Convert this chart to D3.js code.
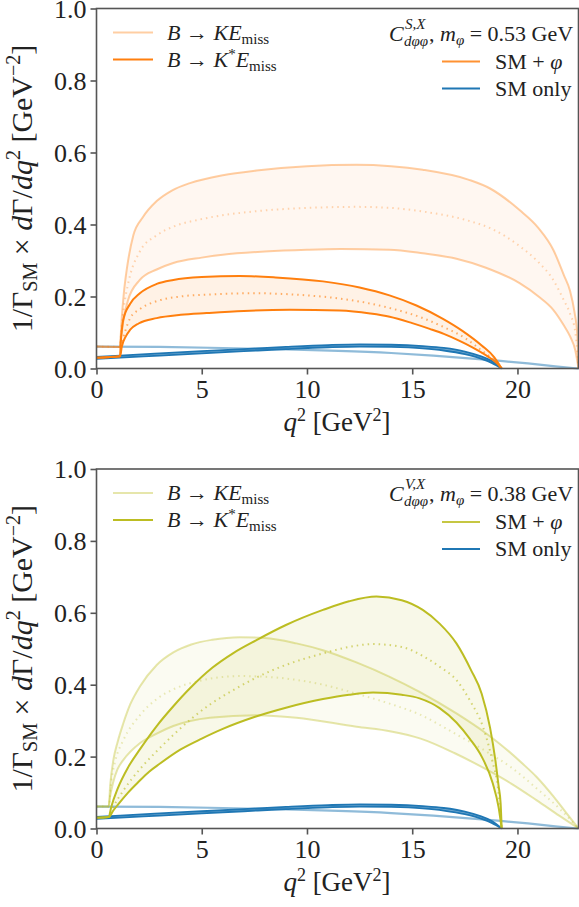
<!DOCTYPE html>
<html><head><meta charset="utf-8">
<script src="https://cdn.jsdelivr.net/npm/d3@7"></script>
<style>body{margin:0;background:#fff}svg text{font-family:"Liberation Serif","Times New Roman","DejaVu Serif",serif;fill:#222}</style>
</head><body><svg id="c" width="579" height="907" font-family="Liberation Serif"></svg>
<script>
// ---------- data ----------
const xTicks = [0, 5, 10, 15, 20];
const yTicks = [0, 0.2, 0.4, 0.6, 0.8, 1.0];

// SM only (shared by both panels)
const smK = [[0,0.061],[3,0.060],[6,0.057],[9,0.053],[11.5,0.049],[14,0.043],[16,0.036],[18,0.027],[19.2,0.021],[20.5,0.014],[21.8,0.006],[22.9,0]];
const smKsUpper = [[0,0.032],[1.12,0.036],[3,0.042],[5,0.048],[7,0.054],[9,0.060],[11,0.065],[12.5,0.067],[14,0.066],[15.5,0.062],[16.5,0.057],[17.5,0.047],[18.2,0.035],[18.8,0.02],[19.25,0]];
const smKsLower = [[0,0.027],[1.12,0.030],[3,0.036],[5,0.042],[7,0.048],[9,0.054],[11,0.059],[12.5,0.061],[14,0.060],[15.5,0.056],[16.5,0.050],[17.5,0.040],[18.2,0.029],[18.8,0.015],[19.25,0]];

// Top panel: scalar, m_phi = 0.53 GeV
const topKUpper = [[0,0.061],[1.12,0.060],[1.16,0.10],[1.2,0.14],[1.3,0.21],[1.45,0.28],[1.75,0.37],[2.2,0.42],[2.86,0.465],[3.6,0.495],[4.44,0.515],[6,0.537],[7.6,0.55],[10,0.562],[12.35,0.566],[14,0.562],[15.5,0.552],[17.7,0.524],[18.7,0.5],[20.1,0.44],[21,0.39],[21.7,0.33],[22.2,0.26],[22.5,0.215],[22.7,0.16],[22.85,0.09],[22.9,0]];
const topKMid = [[0,0.061],[1.12,0.060],[1.16,0.095],[1.2,0.12],[1.3,0.17],[1.5,0.235],[2.06,0.325],[2.86,0.37],[3.65,0.394],[5,0.415],[7.6,0.437],[10,0.446],[12.35,0.449],[14,0.446],[15.5,0.436],[17.7,0.41],[18.7,0.39],[20.1,0.34],[21,0.295],[21.7,0.246],[22.2,0.19],[22.5,0.152],[22.75,0.1],[22.9,0]];
const topKLower = [[0,0.061],[1.12,0.060],[1.16,0.085],[1.2,0.1],[1.27,0.13],[1.5,0.19],[2.06,0.246],[2.86,0.275],[3.65,0.293],[5,0.308],[6,0.316],[8,0.325],[10,0.33],[11.6,0.332],[13.9,0.33],[15.5,0.32],[17.1,0.305],[18.5,0.28],[20.1,0.237],[21,0.2],[21.7,0.163],[22.2,0.12],[22.5,0.089],[22.75,0.05],[22.9,0]];
const topKsUpper = [[0,0.030],[1.12,0.034],[1.15,0.07],[1.2,0.105],[1.27,0.135],[1.6,0.18],[2.06,0.209],[2.86,0.235],[3.65,0.246],[5,0.254],[6.8,0.257],[8.5,0.253],[10.76,0.242],[12.5,0.225],[13.92,0.203],[15.2,0.175],[16.46,0.138],[17.4,0.104],[18.3,0.064],[18.9,0.031],[19.25,0]];
const topKsMid = [[0,0.030],[1.12,0.034],[1.2,0.065],[1.4,0.11],[1.6,0.14],[2.06,0.165],[2.86,0.187],[4,0.2],[5.5,0.206],[7.6,0.209],[9.5,0.205],[11,0.198],[12.5,0.186],[14,0.167],[15.5,0.14],[16.5,0.115],[17.5,0.085],[18.3,0.05],[18.9,0.023],[19.25,0]];
const topKsLower = [[0,0.030],[1.12,0.034],[1.2,0.06],[1.4,0.09],[1.59,0.107],[2.0,0.125],[2.86,0.14],[4,0.149],[5.23,0.154],[7,0.16],[9.18,0.163],[11.56,0.161],[13,0.153],[13.93,0.144],[15,0.126],[15.83,0.11],[16.5,0.096],[17.2,0.078],[17.88,0.058],[18.6,0.033],[19.0,0.016],[19.25,0]];

// Bottom panel: vector, m_phi = 0.38 GeV
const botKUpper = [[0,0.061],[0.58,0.061],[0.65,0.12],[0.8,0.19],[1.0,0.24],[1.27,0.292],[1.6,0.345],[2.06,0.395],[2.86,0.455],[3.65,0.49],[4.5,0.512],[5.5,0.525],[6.8,0.532],[8,0.53],[9.5,0.515],[10.76,0.496],[12.35,0.462],[13.93,0.422],[15.35,0.38],[17.1,0.32],[18.5,0.265],[19.15,0.236],[20.25,0.18],[20.9,0.144],[21.7,0.09],[22.3,0.045],[22.9,0]];
const botKMid = [[0,0.061],[0.58,0.061],[0.7,0.13],[0.9,0.19],[1.27,0.245],[2.06,0.315],[2.86,0.36],[3.65,0.387],[5,0.412],[6.8,0.424],[8.5,0.42],[10.76,0.40],[12.35,0.375],[14,0.346],[15.4,0.316],[17,0.265],[18.5,0.215],[19.7,0.17],[20.9,0.112],[22,0.055],[22.9,0]];
const botKLower = [[0,0.061],[0.58,0.061],[0.65,0.09],[0.8,0.13],[1.0,0.165],[1.27,0.19],[2.06,0.237],[2.86,0.264],[3.65,0.285],[5.39,0.308],[7.6,0.315],[9.5,0.308],[12.35,0.283],[14,0.27],[15.4,0.25],[17,0.21],[18.5,0.165],[19.7,0.125],[20.9,0.079],[22,0.035],[22.9,0]];
const botKsUpper = [[0,0.030],[0.58,0.032],[0.7,0.06],[1.0,0.11],[1.5,0.17],[2.06,0.22],[2.86,0.285],[3.65,0.34],[4.44,0.39],[5.5,0.447],[6.5,0.488],[7.6,0.524],[9,0.566],[10.76,0.608],[12,0.632],[13.3,0.645],[14.5,0.635],[15.5,0.608],[16.3,0.57],[17.1,0.515],[17.8,0.44],[18.3,0.375],[18.7,0.28],[18.95,0.19],[19.1,0.12],[19.2,0.07],[19.25,0]];
const botKsMid = [[0,0.030],[0.58,0.032],[0.8,0.06],[1.27,0.105],[2.06,0.165],[2.86,0.215],[3.65,0.26],[4.5,0.305],[5.39,0.345],[6.5,0.385],[7.6,0.42],[9,0.455],[10.76,0.487],[12,0.505],[13.14,0.513],[14.5,0.505],[15.5,0.48],[16.3,0.45],[17.1,0.413],[17.8,0.35],[18.36,0.283],[18.8,0.19],[19.1,0.1],[19.25,0]];
const botKsLower = [[0,0.030],[0.58,0.032],[0.8,0.05],[1.0,0.065],[1.5,0.1],[2.0,0.13],[2.5,0.158],[3.0,0.18],[4.0,0.22],[5.0,0.25],[6.0,0.277],[7.5,0.31],[9,0.336],[10.76,0.36],[12,0.372],[13.14,0.378],[14.5,0.372],[15.35,0.362],[16.3,0.335],[17.1,0.295],[17.73,0.25],[18.3,0.2],[18.83,0.125],[19.1,0.06],[19.25,0]];

const panels = [
  {top:8.5, bottom:368.5, color:"#ff7f0e", rgb:"255,127,14", coupling:"S,X", mass:"0.53",
   K:[topKUpper,topKMid,topKLower], Ks:[topKsUpper,topKsMid,topKsLower]},
  {top:469, bottom:828.5, color:"#bcbd22", rgb:"188,189,34", coupling:"V,X", mass:"0.38",
   K:[botKUpper,botKMid,botKLower], Ks:[botKsUpper,botKsMid,botKsLower]}
];
const blue = "#1f77b4";
const FONT = "Liberation Serif";

// ---------- drawing ----------
const svg = d3.select("#c");
const x = d3.scaleLinear().domain([0, 22.9]).range([96.5, 578.5]);
const axisCol = "#555";

panels.forEach(p => {
  const y = d3.scaleLinear().domain([0, 1]).range([p.bottom, p.top]);
  const g = svg.append("g");
  const line = d3.line().x(d => x(d[0])).y(d => y(d[1])).curve(d3.curveMonotoneX);
  const band = (u, l) => line(u) + "L" + line(l.slice().reverse()).substring(1) + "Z";

  // fills
  g.append("path").attr("d", band(p.K[0], p.K[2])).attr("fill", `rgba(${p.rgb},0.06)`);
  g.append("path").attr("d", band(p.Ks[0], p.Ks[2])).attr("fill", `rgba(${p.rgb},0.10)`);
  g.append("path").attr("d", band(smKsUpper, smKsLower)).attr("fill", "rgba(31,119,180,0.6)");

  // SM lines
  g.append("path").attr("d", line(smK)).attr("fill","none").attr("stroke","rgba(31,119,180,0.5)").attr("stroke-width",2.2);
  [smKsUpper, smKsLower].forEach(s => g.append("path").attr("d", line(s)).attr("fill","none").attr("stroke",blue).attr("stroke-width",1.8));

  // K lines (light)
  [p.K[0], p.K[2]].forEach(s => g.append("path").attr("d", line(s)).attr("fill","none").attr("stroke",`rgba(${p.rgb},0.38)`).attr("stroke-width",2));
  g.append("path").attr("d", line(p.K[1])).attr("fill","none").attr("stroke",`rgba(${p.rgb},0.3)`).attr("stroke-width",2).attr("stroke-dasharray","1.5,4");
  // K* lines
  [p.Ks[0], p.Ks[2]].forEach(s => g.append("path").attr("d", line(s)).attr("fill","none").attr("stroke",p.color).attr("stroke-width",2));
  g.append("path").attr("d", line(p.Ks[1])).attr("fill","none").attr("stroke",`rgba(${p.rgb},0.6)`).attr("stroke-width",2).attr("stroke-dasharray","1.5,4");

  // frame
  g.append("rect").attr("x",96.5).attr("y",p.top).attr("width",482).attr("height",p.bottom-p.top)
    .attr("fill","none").attr("stroke",axisCol).attr("stroke-width",1.6);

  // axes
  const ax = g.append("g").attr("transform",`translate(0,${p.bottom})`)
    .call(d3.axisBottom(x).tickValues(xTicks).tickFormat(d3.format("d")).tickSize(6).tickPadding(4));
  const ay = g.append("g").attr("transform",`translate(96.5,0)`)
    .call(d3.axisLeft(y).tickValues(yTicks).tickFormat(d3.format(".1f")).tickSize(6).tickPadding(4));
  [ax, ay].forEach(a => {
    a.attr("font-family", FONT);
    a.select(".domain").remove();
    a.selectAll(".tick line").attr("stroke",axisCol).attr("stroke-width",1.6);
    a.selectAll(".tick text").attr("font-size",26).attr("fill","#222").attr("font-family",FONT);
  });
  ax.selectAll(".tick text").attr("dy","0.76em");
  ay.selectAll(".tick text").attr("dy","0.34em");

  // x label
  const xl = g.append("text").attr("x",337).attr("y",p.bottom+62).attr("text-anchor","middle").attr("font-size",27).attr("font-family",FONT);
  xl.append("tspan").attr("font-style","italic").text("q");
  xl.append("tspan").attr("font-size",18).attr("dy",-10).text("2");
  xl.append("tspan").attr("dy",10).text(" [GeV");
  xl.append("tspan").attr("font-size",18).attr("dy",-10).text("2");
  xl.append("tspan").attr("dy",10).text("]");

  // y label
  const cy = (p.top+p.bottom)/2;
  const yl = g.append("text").attr("transform",`translate(32,${cy}) rotate(-90)`).attr("text-anchor","middle").attr("font-size",30).attr("font-family",FONT);
  yl.append("tspan").text("1/Γ");
  yl.append("tspan").attr("font-size",20).attr("dy",5).text("SM");
  yl.append("tspan").attr("dy",-5).text(" × ");
  yl.append("tspan").attr("font-style","italic").text("d");
  yl.append("tspan").text("Γ/");
  yl.append("tspan").attr("font-style","italic").text("dq");
  yl.append("tspan").attr("font-size",20).attr("dy",-12).text("2");
  yl.append("tspan").attr("dy",12).text(" [GeV");
  yl.append("tspan").attr("font-size",20).attr("dy",-12).text("−2");
  yl.append("tspan").attr("dy",12).text("]");

  // left legend
  const L = [{c:`rgba(${p.rgb},0.38)`, star:false, dy:24},{c:p.color, star:true, dy:51}];
  L.forEach(it => {
    const yy = p.top + it.dy;
    g.append("line").attr("x1",113).attr("x2",153).attr("y1",yy).attr("y2",yy).attr("stroke",it.c).attr("stroke-width",2);
    const t = g.append("text").attr("x",167).attr("y",yy+7).attr("font-size",22).attr("font-family",FONT);
    t.append("tspan").attr("font-style","italic").text("B");
    t.append("tspan").text(" → ");
    t.append("tspan").attr("font-style","italic").text("K");
    if (it.star) t.append("tspan").attr("font-size",15).attr("dy",-8).text("*");
    t.append("tspan").attr("font-style","italic").attr("dy", it.star ? 8 : 0).text("E");
    t.append("tspan").attr("font-size",15).attr("dy",4).text("miss");
  });

  // right legend title
  const ty = p.top + 32;
  g.append("text").attr("x",389).attr("y",ty).attr("font-size",22).attr("font-style","italic").attr("font-family",FONT).text("C");
  g.append("text").attr("x",405).attr("y",ty-12).attr("font-size",15).attr("font-style","italic").attr("font-family",FONT).text(p.coupling);
  g.append("text").attr("x",404).attr("y",ty+5).attr("font-size",15).attr("font-style","italic").attr("font-family",FONT).text("dφφ");
  const tt = g.append("text").attr("x",429).attr("y",ty).attr("font-size",22).attr("font-family",FONT);
  tt.append("tspan").text(", ");
  tt.append("tspan").attr("font-style","italic").text("m");
  tt.append("tspan").attr("font-size",15).attr("font-style","italic").attr("dy",4).text("φ");
  tt.append("tspan").attr("dy",-4).text(" = " + p.mass + " GeV");

  // right legend entries
  [{c:`rgba(${p.rgb},0.85)`, lab:"SM + ", phi:true, dy:53},{c:blue, lab:"SM only", phi:false, dy:80}].forEach(it => {
    const yy = p.top + it.dy;
    g.append("line").attr("x1",442).attr("x2",480).attr("y1",yy).attr("y2",yy).attr("stroke",it.c).attr("stroke-width",2);
    const t = g.append("text").attr("x",495).attr("y",yy+7).attr("font-size",22).attr("font-family",FONT).text(it.lab);
    if (it.phi) t.append("tspan").attr("font-style","italic").text("φ");
  });
});
</script></body></html>
